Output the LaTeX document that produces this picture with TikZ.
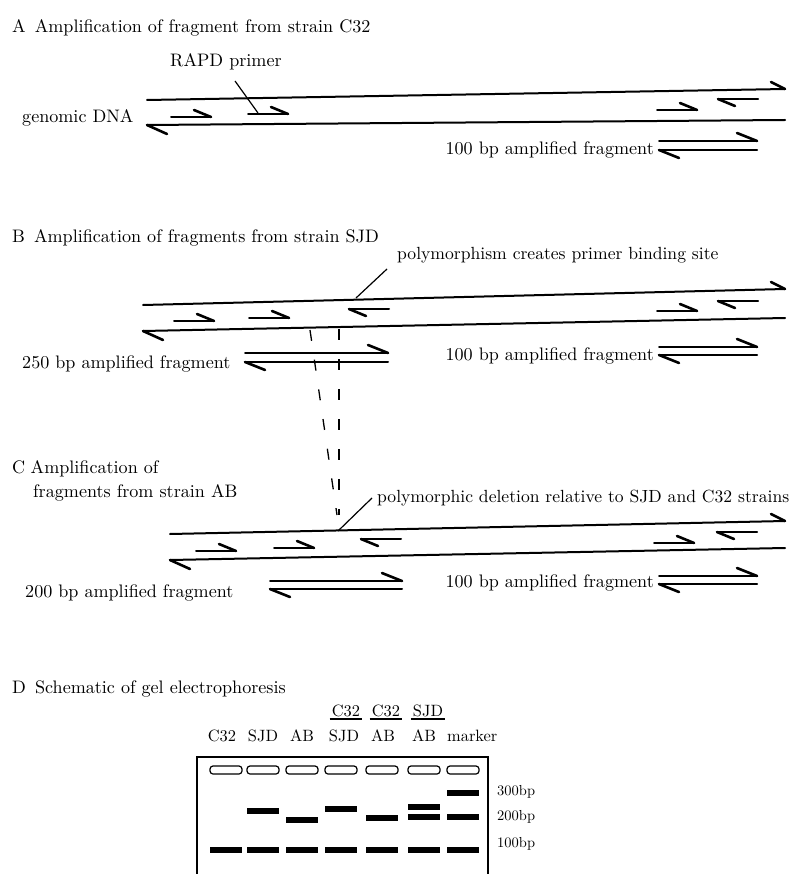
\documentclass[tikz,border=0pt]{standalone}
\usepackage{fontspec}
\usepackage{graphicx}
\newcommand{\T}[1]{\scalebox{1.81}{#1}}
\newcommand{\Tn}[1]{\scalebox{1.76}{#1}}
\newcommand{\G}[1]{\scalebox{1.64}{#1}}
\newcommand{\R}[1]{\scalebox{1.45}{#1}}
\tikzset{
 strand/.style={line width=2pt, line cap=round},
 barb/.style={line width=2.6pt, line cap=round},
 ptr/.style={line width=1.2pt},
 lbl/.style={font=\fontsize{10}{12}\selectfont, inner sep=0pt},
 dashln/.style={line width=1.3pt, dash pattern=on 11pt off 19pt},
 fwd/.pic={\draw[strand] (-20,0) -- (20,0); \draw[barb] (20,0) -- (3,-7);},
 rev/.pic={\draw[strand] (-20,0) -- (20,0); \draw[barb] (-20,0) -- (-3,7);},
 well/.style={draw, line width=1.2pt, rounded corners=3pt, minimum width=32pt, minimum height=8pt, inner sep=0pt},
 band/.style={fill=black, minimum width=32pt, minimum height=5.5pt, inner sep=0pt},
}
\newcommand{\fragar}[4]{%
 \draw[strand] (#1,#3) -- (#2,#3); \draw[barb] (#2,#3) -- ++(-20,-8);
 \draw[strand] (#1,#4) -- (#2,#4); \draw[barb] (#1,#4) -- ++(20,8);}
\newcommand{\dna}[6]{%
 \draw[strand] (#1,#3) -- (#2,#4); \draw[barb] (#2,#4) -- ++(-14,-7);
 \draw[strand] (#1,#5) -- (#2,#6); \draw[barb] (#1,#5) -- ++(20,9);}
\begin{document}
\begin{tikzpicture}[x=1pt,y=-1pt]
\useasboundingbox (0,0) rectangle (789,874);
% ---------- A
\node[lbl,anchor=base west] (titleA) at (12,33) {\T{A\hspace{0.5em}Amplification of fragment from strain C32}};
\node[lbl,anchor=base west] (rapd) at (170,67) {\T{RAPD primer}};
\node[lbl,anchor=base west] (gdna) at (22,123) {\T{genomic DNA}};
\dna{147}{785}{100}{89}{125}{120}
\pic at (191,117) {fwd};
\pic at (268,114) {fwd};
\pic at (677,110) {fwd};
\pic at (738,99) {rev};
\coordinate (rapdT) at (235,81);
\coordinate (rapdH) at (258,113);
\draw[ptr] (rapdT) -- (rapdH);
\node[lbl,anchor=base east] (fragA) at (654,155) {\T{100 bp amplified fragment}};
\fragar{659}{757}{141}{150}
% ---------- B
\node[lbl,anchor=base west] (titleB) at (12,243) {\T{B\hspace{0.5em}Amplification of fragments from strain SJD}};
\node[lbl,anchor=base west] (polyB) at (397,259) {\Tn{polymorphism creates primer binding site}};
\dna{143}{785}{305}{289}{331}{318}
\pic at (194,321) {fwd};
\pic at (269,318) {fwd};
\pic at (369,309) {rev};
\pic at (677,311) {fwd};
\pic at (738,301) {rev};
\coordinate (pBs) at (356,298);
\coordinate (pBe) at (387,269);
\draw[ptr] (pBs) -- (pBe);
\node[lbl,anchor=base west] (f250) at (22,368) {\T{250 bp amplified fragment}};
\fragar{245}{388}{353}{362}
\node[lbl,anchor=base east] (fragB) at (654,360) {\T{100 bp amplified fragment}};
\fragar{659}{757}{347}{355}
% ---------- dashed guides
\coordinate (dL1) at (310,330);
\coordinate (dL2) at (337,515);
\coordinate (dR1) at (339,329);
\coordinate (dR2) at (339,515);
\draw[dashln] (dL1) -- (dL2);
\draw[dashln] (dR1) -- (dR2);
% ---------- C
\node[lbl,anchor=base west] (titleC1) at (12,473) {\T{C\hspace{0.3em}Amplification of}};
\node[lbl,anchor=base west] (titleC2) at (33,497) {\T{fragments from strain AB}};
\node[lbl,anchor=base west] (polyC) at (377,502) {\Tn{polymorphic deletion relative to SJD and C32 strains}};
\dna{170}{785}{534}{521}{560}{548}
\pic at (216,551) {fwd};
\pic at (294,548) {fwd};
\pic at (381,539) {rev};
\pic at (674,543) {fwd};
\pic at (737,532) {rev};
\coordinate (pCs) at (338,531);
\coordinate (pCe) at (372,498);
\draw[ptr] (pCs) -- (pCe);
\node[lbl,anchor=base west] (f200) at (25,597) {\T{200 bp amplified fragment}};
\fragar{270}{402}{581}{589}
\node[lbl,anchor=base east] (fragC) at (654,587) {\T{100 bp amplified fragment}};
\fragar{659}{757}{576}{584}
% ---------- D
\node[lbl,anchor=base west] (titleD) at (12,693) {\T{D\hspace{0.5em}Schematic of gel electrophoresis}};
\node[lbl,anchor=base] (l1) at (222,741) {\G{C32}};
\node[lbl,anchor=base] (l2) at (263,741) {\G{SJD}};
\node[lbl,anchor=base] (l3) at (302,741) {\G{AB}};
\node[lbl,anchor=base] (l4) at (344,741) {\G{SJD}};
\node[lbl,anchor=base] (l5) at (383,741) {\G{AB}};
\node[lbl,anchor=base] (l6) at (424,741) {\G{AB}};
\node[lbl,anchor=base west] (l7) at (447,741) {\G{marker}};
\node[lbl,anchor=base] (u4) at (346,716) {\G{C32}};
\node[lbl,anchor=base] (u5) at (386,716) {\G{C32}};
\node[lbl,anchor=base] (u6) at (428,716) {\G{SJD}};
\foreach \u in {u4,u5,u6}
  \draw[ptr] ([xshift=-2pt,yshift=-3pt]\u.base west) -- ([xshift=2pt,yshift=-3pt]\u.base east);
\draw[line width=1.1pt] (197,876) -- (197,757) -- (488,757) -- (488,876);
\foreach \x [count=\i] in {226,263,302,341,382,424,463} {
  \node[well] (w\i) at (\x,770) {};
  \node[band] (b\i) at (\x,850) {};
}
\node[band] (s2) at (263,811) {};
\node[band] (s3) at (302,820) {};
\node[band] (s4) at (341,809) {};
\node[band] (s5) at (382,818) {};
\node[band] (s6a) at (424,807) {};
\node[band] (s6b) at (424,817) {};
\node[band] (m300) at (463,793) {};
\node[band] (m200) at (463,817) {};
\node[lbl,anchor=base west] (r300) at (497,795) {\R{300bp}};
\node[lbl,anchor=base west] (r200) at (497,820) {\R{200bp}};
\node[lbl,anchor=base west] (r100) at (497,847) {\R{100bp}};
\end{tikzpicture}
\end{document}
